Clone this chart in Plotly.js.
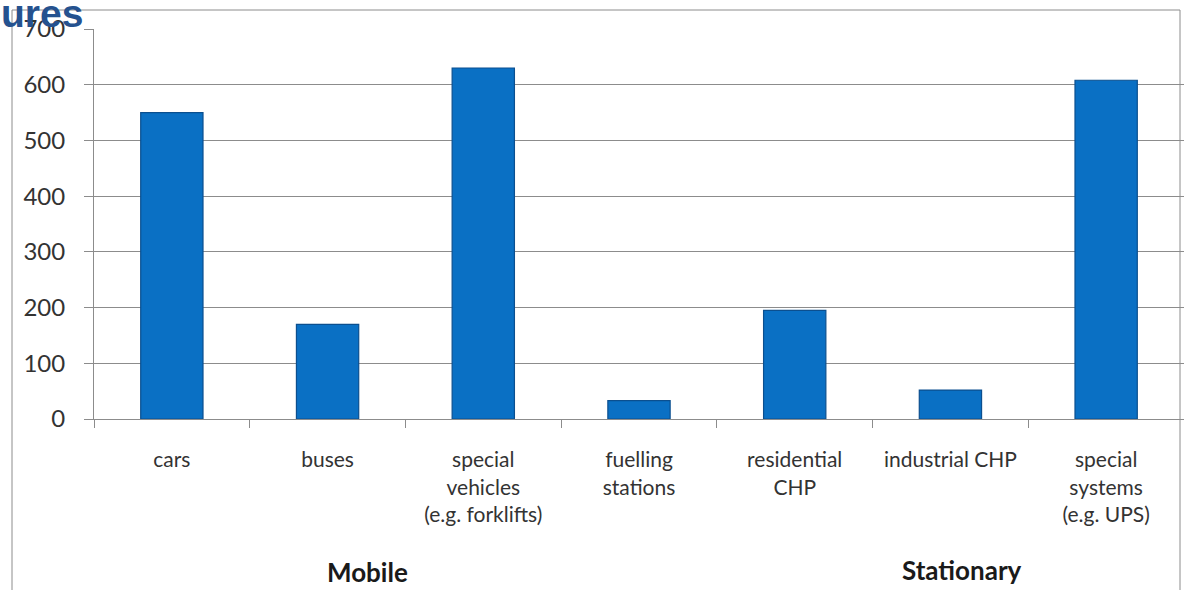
<!DOCTYPE html>
<html>
<head>
<meta charset="utf-8">
<script src="https://cdn.plot.ly/plotly-3.0.1.min.js"></script>
<style>html,body{margin:0;padding:0;background:#fff;}#chart{width:1184px;height:590px;}</style>
</head>
<body>
<div id="chart"></div>
<script>
const categories = ["cars", "buses", "special<br>vehicles<br>(e.g. forklifts)", "fuelling<br>stations", "residential<br>CHP", "industrial CHP", "special<br>systems<br>(e.g. UPS)"];
const values = [550, 170, 630, 33, 195, 52, 608];
const yTicks = [0, 100, 200, 300, 400, 500, 600, 700];
const groupLabels = ["Mobile", "Stationary"];
const titleFragment = "ures";

const W = 1184, H = 590;
const L = 94, R = 0, T = 29, B = 171;
const pw = W - L - R, ph = H - T - B;
const px = v => (v - L) / pw;
const py = v => (H - B - v) / ph;

const trace = {
  type: 'bar',
  x: categories,
  y: values,
  marker: {color: '#0a70c4', line: {color: '#0b4f8f', width: 1.2}},
  hoverinfo: 'x+y'
};

const lineStyle = {color: '#8c8c8c', width: 1};
const layout = {
  width: W, height: H,
  margin: {l: L, r: R, t: T, b: B, pad: 0},
  paper_bgcolor: '#ffffff',
  plot_bgcolor: '#ffffff',
  showlegend: false,
  bargap: 0.6,
  font: {family: 'Lato, Open Sans, sans-serif', color: '#333333'},
  xaxis: {
    type: 'category',
    showgrid: false,
    showline: true, linecolor: '#8c8c8c', linewidth: 1,
    ticks: 'outside', tickson: 'boundaries', ticklen: 8, tickcolor: '#8c8c8c',
    tickfont: {size: 21, color: '#333333', family: 'Lato, sans-serif'},
    ticklabelstandoff: 22,
    tickangle: 0,
    fixedrange: true
  },
  yaxis: {
    range: [0, 700],
    tickvals: yTicks,
    ticktext: yTicks.map(String),
    showgrid: true, gridcolor: '#8c8c8c', gridwidth: 1,
    showline: true, linecolor: '#8c8c8c', linewidth: 1,
    ticks: 'outside', ticklen: 9, tickcolor: '#8c8c8c',
    tickfont: {size: 24, color: '#333333', family: 'Lato, sans-serif'},
    ticklabelstandoff: 14,
    zeroline: false,
    fixedrange: true
  },
  shapes: [
    {type: 'line', xref: 'paper', yref: 'paper', x0: px(12), x1: px(12), y0: py(10), y1: py(600), line: lineStyle},
    {type: 'line', xref: 'paper', yref: 'paper', x0: px(12), x1: px(1180), y0: py(10), y1: py(10), line: lineStyle},
    {type: 'line', xref: 'paper', yref: 'paper', x0: px(1180), x1: px(1180), y0: py(10), y1: py(600), line: lineStyle}
  ],
  annotations: [
    {text: '<b>' + groupLabels[0] + '</b>', xref: 'paper', yref: 'paper', x: px(367), y: py(572), xanchor: 'center', yanchor: 'middle', showarrow: false, font: {size: 26, color: '#1a1a1a', family: 'Lato, sans-serif'}},
    {text: '<b>' + groupLabels[1] + '</b>', xref: 'paper', yref: 'paper', x: px(962), y: py(570), xanchor: 'center', yanchor: 'middle', showarrow: false, font: {size: 26, color: '#1a1a1a', family: 'Lato, sans-serif'}},
    {text: '<b>' + titleFragment + '</b>', xref: 'paper', yref: 'paper', x: px(-1), y: py(14), xanchor: 'left', yanchor: 'middle', showarrow: false, font: {size: 39, color: '#25528f', family: 'Liberation Sans, Arial, sans-serif'}}
  ]
};

Plotly.newPlot('chart', [trace], layout, {displayModeBar: false, staticPlot: true});
</script>
</body>
</html>
